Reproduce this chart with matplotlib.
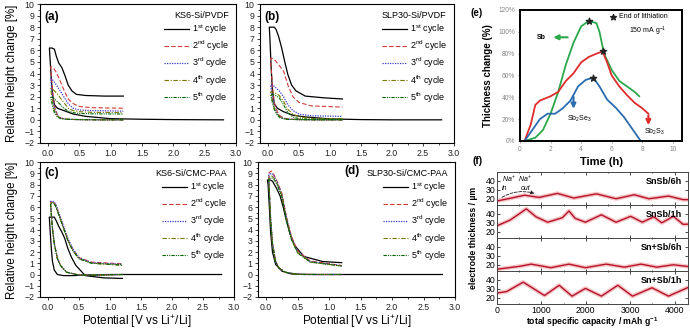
import matplotlib.pyplot as plt
from matplotlib.lines import Line2D
from matplotlib.ticker import MultipleLocator, PercentFormatter

plt.rcParams['font.family'] = ['Liberation Sans', 'DejaVu Sans']
plt.rcParams['mathtext.default'] = 'regular'

W, H = 690, 332


def box(l, t, r, b):
    return [l / W, 1 - b / H, (r - l) / W, (b - t) / H]


# ---- panels (a)-(d): relative height change vs potential ----
# first cycle starts at OCV (2.8 V); later cycles run 1.2 V -> 0 V -> 1.2 V
v_first = [2.8, 2.0, 1.5, 1.0, 0.6, 0.4, 0.25, 0.15, 0.1, 0.07, 0.05, 0.03, 0.02,
           0.06, 0.1, 0.13, 0.17, 0.22, 0.27, 0.32, 0.38, 0.45, 0.6, 0.9, 1.2]
v_rest = [1.2, 0.8, 0.5, 0.3, 0.2, 0.15, 0.1, 0.07, 0.05, 0.04,
          0.08, 0.12, 0.18, 0.25, 0.32, 0.4, 0.5, 0.7, 1.2]

ks6_pvdf_first = [0.0, 0.02, 0.05, 0.1, 0.3, 0.5, 0.8, 1.0, 1.3, 2.2, 3.6, 5.3, 6.2,
                  6.2, 6.1, 5.5, 4.9, 4.5, 3.8, 3.0, 2.5, 2.2, 2.1, 2.05, 2.05]
ks6_pvdf_rest = [
    [0, 0, 0.02, 0.05, 0.15, 0.4, 1.2, 2.5, 3.8, 4.6, 4.5, 4.2, 3.5, 2.6, 1.8, 1.4, 1.15, 1.05, 1.0],
    [0, 0, 0.02, 0.05, 0.15, 0.35, 1.0, 2.0, 3.0, 3.6, 3.4, 3.1, 2.6, 2.0, 1.4, 1.0, 0.85, 0.8, 0.75],
    [0, 0, 0.02, 0.05, 0.12, 0.3, 0.8, 1.6, 2.3, 2.7, 2.6, 2.4, 2.0, 1.5, 1.0, 0.8, 0.7, 0.65, 0.62],
    [0, 0, 0.02, 0.04, 0.1, 0.25, 0.6, 1.2, 1.7, 2.0, 1.9, 1.7, 1.4, 1.0, 0.75, 0.62, 0.55, 0.52, 0.5],
]

slp30_pvdf_first = [0.0, 0.0, 0.02, 0.08, 0.25, 0.4, 0.7, 1.0, 1.4, 2.5, 4.5, 7.0, 8.0,
                    8.0, 8.0, 7.8, 7.2, 6.2, 5.0, 3.9, 3.0, 2.5, 2.05, 1.9, 1.8]
slp30_pvdf_rest = [
    [0, 0, 0.02, 0.08, 0.3, 0.7, 1.5, 3.0, 4.5, 5.3, 5.3, 5.1, 4.7, 4.2, 3.0, 2.0, 1.5, 1.2, 1.1],
    [0, 0, 0.02, 0.06, 0.2, 0.5, 1.1, 2.0, 2.7, 3.0, 3.0, 2.8, 2.5, 2.0, 1.3, 0.8, 0.5, 0.35, 0.3],
    [0, 0, 0.02, 0.05, 0.2, 0.5, 1.0, 1.7, 2.2, 2.4, 2.4, 2.3, 2.1, 1.6, 0.9, 0.5, 0.25, 0.12, 0.1],
    [0, 0, 0.02, 0.05, 0.15, 0.4, 0.9, 1.5, 2.0, 2.2, 2.2, 2.1, 1.9, 1.3, 0.6, 0.25, 0.1, 0.05, 0.05],
]

ks6_cmc_first = [0.0, 0.0, 0.0, 0.0, -0.05, -0.1, -0.1, 0.0, 0.4, 1.2, 2.5, 4.2, 5.1,
                 5.1, 5.1, 4.8, 4.3, 3.8, 3.2, 2.3, 1.5, 0.8, -0.1, -0.3, -0.35]
ks6_cmc_rest = [
    [0, -0.05, -0.05, 0.2, 0.8, 1.5, 2.8, 4.2, 5.6, 6.4, 6.5, 6.2, 5.3, 4.2, 3.1, 2.2, 1.5, 1.1, 0.95],
    [0, -0.05, -0.05, 0.2, 0.8, 1.5, 2.8, 4.2, 5.6, 6.5, 6.5, 6.3, 5.4, 4.3, 3.2, 2.3, 1.5, 1.05, 0.9],
    [0, -0.05, -0.05, 0.2, 0.8, 1.4, 2.7, 4.1, 5.5, 6.4, 6.4, 6.1, 5.2, 4.1, 3.0, 2.1, 1.4, 1.0, 0.8],
    [0, -0.05, -0.05, 0.2, 0.8, 1.4, 2.7, 4.1, 5.5, 6.3, 6.4, 6.1, 5.2, 4.1, 3.0, 2.1, 1.4, 1.0, 0.85],
]

slp30_cmc_first = [0.0, 0.0, 0.0, 0.0, 0.0, 0.05, 0.3, 0.9, 2.0, 3.8, 6.0, 8.0, 8.4,
                   8.4, 8.3, 8.0, 7.6, 7.0, 6.0, 4.8, 3.6, 2.6, 1.6, 1.15, 1.05]
slp30_cmc_rest = [
    [0, 0, 0.02, 0.2, 0.6, 1.2, 2.8, 5.0, 7.5, 9.0, 9.2, 8.9, 8.2, 7.2, 5.2, 3.4, 2.1, 1.2, 0.8],
    [0, 0, 0.02, 0.2, 0.6, 1.2, 2.8, 5.0, 7.4, 8.9, 9.0, 8.8, 8.1, 7.1, 5.1, 3.3, 2.0, 1.15, 0.78],
    [0, 0, 0.02, 0.2, 0.6, 1.1, 2.7, 4.9, 7.3, 8.7, 8.8, 8.6, 8.0, 7.0, 5.0, 3.2, 1.95, 1.1, 0.75],
    [0, 0, 0.02, 0.2, 0.6, 1.1, 2.7, 4.9, 7.2, 8.5, 8.6, 8.5, 7.9, 6.9, 4.9, 3.1, 1.9, 1.1, 0.75],
]

cycle_labels = ['1$^{st}$ cycle', '2$^{nd}$ cycle', '3$^{rd}$ cycle',
                '4$^{th}$ cycle', '5$^{th}$ cycle']
cycle_styles = [
    dict(color='black', ls='-', lw=0.9),
    dict(color='#d03a3a', ls=(0, (4, 2)), lw=0.8),
    dict(color='#3a3ac8', ls=(0, (1, 1)), lw=0.9),
    dict(color='#7a7a00', ls=(0, (4, 1.5, 1, 1.5)), lw=0.8),
    dict(color='#006400', ls=(0, (3, 1, 1, 1, 1, 1)), lw=0.8),
]

# ---- panel (e): thickness change vs time ----
sb_t = [0.3, 1.0, 1.5, 2.0, 2.5, 3.0, 3.5, 4.0, 4.5, 5.0, 5.2, 5.5, 6.0, 6.5, 7.0, 7.5, 7.8]
sb_y = [0.0, 0.03, 0.1, 0.25, 0.45, 0.7, 0.9, 1.05, 1.1, 1.08, 1.0, 0.8, 0.65, 0.55, 0.5, 0.45, 0.41]
sb2s3_t = [0.3, 0.7, 1.0, 1.3, 2.0, 2.5, 3.0, 3.5, 4.0, 4.5, 5.0, 5.4, 5.7, 6.0, 6.5, 7.0, 7.5, 8.0, 8.4]
sb2s3_y = [0.0, 0.15, 0.33, 0.37, 0.41, 0.45, 0.55, 0.62, 0.72, 0.77, 0.8, 0.82, 0.72, 0.6, 0.5, 0.42, 0.35, 0.3, 0.25]
sb2se3_t = [0.3, 0.8, 1.3, 1.8, 2.3, 2.8, 3.3, 3.8, 4.3, 4.8, 5.2, 5.7, 6.3, 6.8, 7.3, 7.9]
sb2se3_y = [0.0, 0.1, 0.2, 0.25, 0.25, 0.3, 0.37, 0.5, 0.56, 0.58, 0.5, 0.38, 0.3, 0.22, 0.12, 0.0]
lith_end_t = [4.5, 5.4, 4.8]
lith_end_y = [1.1, 0.82, 0.58]

# ---- panel (f): electrode thickness vs capacity ----
f_labels = ['SnSb/6h', 'SnSb/1h', 'Sn+Sb/6h', 'Sn+Sb/1h']
f_cap = [
    [0, 300, 620, 950, 1360, 1730, 2240, 2680, 3090, 3420, 3860, 4190, 4300],
    [0, 290, 440, 660, 880, 1140, 1470, 1620, 1760, 1990, 2350, 2680, 3010, 3270, 3530, 3710, 3970, 4190, 4300],
    [0, 515, 770, 1210, 1620, 1990, 2460, 2870, 3240, 3600, 3970, 4300],
    [0, 220, 590, 1070, 1400, 1690, 1990, 2350, 2720, 3050, 3490, 3860, 4300],
]
f_thick = [
    [17.5, 20.5, 24.0, 21.5, 26.0, 20.8, 25.5, 20.0, 24.5, 20.0, 23.0, 19.0, 19.0],
    [26.7, 33.0, 38.0, 45.7, 36.7, 30.7, 35.7, 43.3, 35.0, 30.7, 39.0, 30.7, 37.3, 30.7, 36.7, 30.0, 37.3, 28.3, 28.5],
    [15.0, 18.3, 20.7, 16.7, 20.7, 16.7, 20.7, 17.3, 20.7, 17.3, 20.0, 18.0],
    [25.3, 27.0, 37.5, 22.5, 34.0, 21.8, 30.5, 21.8, 34.0, 21.8, 31.2, 21.8, 31.5],
]

fig = plt.figure(figsize=(W / 100, H / 100), dpi=100)

panels = [
    ((40, 4, 236, 143), ks6_pvdf_first, ks6_pvdf_rest, 'KS6-Si/PVDF', '(a)', (0.02, 0.91)),
    ((260, 4, 454, 143), slp30_pvdf_first, slp30_pvdf_rest, 'SLP30-Si/PVDF', '(b)', (0.02, 0.91)),
    ((40, 162, 234, 297), ks6_cmc_first, ks6_cmc_rest, 'KS6-Si/CMC-PAA', '(c)', (0.02, 0.92)),
    ((258, 162, 455, 297), slp30_cmc_first, slp30_cmc_rest, 'SLP30-Si/CMC-PAA', '(d)', (0.44, 0.93)),
]
for i, (pos, first, rest, title, letter, lxy) in enumerate(panels):
    ax = fig.add_axes(box(*pos))
    ax.plot(v_first, first, **cycle_styles[0])
    for h, st in zip(rest, cycle_styles[1:]):
        ax.plot(v_rest, h, **st)
    ax.set_xlim(-0.13, 3.0)
    ax.set_ylim(-2, 10)
    ax.xaxis.set_major_locator(MultipleLocator(0.5))
    ax.xaxis.set_minor_locator(MultipleLocator(0.25))
    ax.yaxis.set_major_locator(MultipleLocator(1))
    ax.yaxis.set_minor_locator(MultipleLocator(0.5))
    ax.tick_params(labelsize=6.3, colors='#222', length=2.5, width=0.6, pad=1.5)
    ax.tick_params(which='minor', length=1.5, width=0.5)
    for s in ax.spines.values():
        s.set_linewidth(0.8)
    ax.text(lxy[0], lxy[1], letter, transform=ax.transAxes, fontsize=8.5,
            fontweight='bold', ha='left', va='center')
    handles = [Line2D([], [], **st) for st in cycle_styles]
    ax.legend(handles, cycle_labels, title=title, loc='upper right',
              bbox_to_anchor=(0.99, 0.99), frameon=False, fontsize=6.5,
              title_fontsize=6.5, handlelength=2.8, handletextpad=0.3,
              labelspacing=0.3, borderaxespad=0.2, alignment='right')
    if i >= 2:
        ax.set_xlabel('Potential [V vs Li$^{+}$/Li]', fontsize=8.5, labelpad=1)

fig.text(12 / W, 1 - 73 / H, 'Relative height change [%]', rotation=90,
         ha='center', va='center', fontsize=8.3)
fig.text(12 / W, 1 - 230 / H, 'Relative height change [%]', rotation=90,
         ha='center', va='center', fontsize=8.3)

# ---- panel (e) ----
ax = fig.add_axes(box(520, 10, 682, 141))
ax.plot(sb_t, sb_y, color='#2aa84a', lw=1.3)
ax.plot(sb2s3_t, sb2s3_y, color='#e02b2b', lw=1.3)
ax.plot(sb2se3_t, sb2se3_y, color='#2b6cb0', lw=1.3)
ax.scatter(lith_end_t, lith_end_y, marker='*', s=22, color='#222', zorder=5)
ax.set_xlim(0, 10.6)
ax.set_ylim(0, 1.2)
ax.set_xticks([0, 2, 4, 6, 8, 10])
ax.set_yticks([0, 0.2, 0.4, 0.6, 0.8, 1.0, 1.2])
ax.yaxis.set_major_formatter(PercentFormatter(1.0, decimals=0))
ax.tick_params(labelsize=4.8, colors='#888', length=1.5, width=0.5, pad=2)
for s in ax.spines.values():
    s.set_linewidth(1.4)
ax.set_xlabel('Time (h)', fontsize=8, fontweight='bold', labelpad=3)
ax.set_ylabel('Thickness change (%)', fontsize=7, fontweight='bold', labelpad=4)
ax.annotate('', xy=(2.0, 0.95), xytext=(3.3, 0.95),
            arrowprops=dict(arrowstyle='-|>', color='#2aa84a', lw=1.5, mutation_scale=7))
ax.text(1.4, 0.95, 'Sb', fontsize=5, ha='center', va='center', fontweight='bold')
ax.annotate('', xy=(3.5, 0.27), xytext=(3.5, 0.43),
            arrowprops=dict(arrowstyle='-|>', color='#2b6cb0', lw=1.5, mutation_scale=7))
ax.text(3.9, 0.2, 'Sb$_2$Se$_3$', fontsize=5, ha='center', va='center')
ax.annotate('', xy=(8.4, 0.12), xytext=(8.4, 0.26),
            arrowprops=dict(arrowstyle='-|>', color='#e02b2b', lw=1.5, mutation_scale=7))
ax.text(8.8, 0.08, 'Sb$_2$S$_3$', fontsize=5, ha='center', va='center')
ax.scatter([6.1], [1.14], marker='*', s=18, color='#222')
ax.text(6.5, 1.14, 'End of lithiation', fontsize=5, ha='left', va='center')
ax.text(7.1, 1.0, '150 mA g$^{-1}$', fontsize=5, ha='left', va='center')
fig.text(477 / W, 1 - 13 / H, '(e)', fontsize=7, fontweight='bold', ha='center', va='center')

# ---- panel (f) ----
f_top, f_h = 172, 33
for i, (cap, th, lab) in enumerate(zip(f_cap, f_thick, f_labels)):
    ax = fig.add_axes(box(497, f_top + i * f_h, 688, f_top + (i + 1) * f_h))
    ax.plot(cap, th, color='#f6c4c4', lw=3.0, solid_capstyle='round')
    ax.plot(cap, th, color='#b5122b', lw=1.0)
    ax.set_xlim(0, 4300)
    ax.set_ylim(13, 50)
    ax.set_yticks([20, 30, 40])
    ax.xaxis.set_major_locator(MultipleLocator(1000))
    ax.xaxis.set_minor_locator(MultipleLocator(500))
    ax.tick_params(which='both', direction='in', top=True, right=True,
                   labelsize=6.3, length=2, width=0.5, pad=1.2)
    ax.tick_params(which='minor', length=1)
    for s in ax.spines.values():
        s.set_linewidth(0.7)
        s.set_color('#444')
    ax.text(0.97, 0.7, lab, transform=ax.transAxes, fontsize=6.5, fontweight='bold',
            ha='right', va='center')
    if i < 3:
        ax.tick_params(labelbottom=False)
    else:
        ax.set_xlabel('total specific capacity / mAh g$^{-1}$', fontsize=6.2,
                      fontweight='bold', labelpad=0.5)
    if i == 0:
        ax.text(110, 42, 'Na$^{+}$', fontsize=5, style='italic', ha='left', va='center')
        ax.text(110, 32, 'in', fontsize=5, style='italic', ha='left', va='center')
        ax.text(480, 42, 'Na$^{+}$', fontsize=5, style='italic', ha='left', va='center')
        ax.text(540, 32, 'out', fontsize=5, style='italic', ha='left', va='center')
        ax.annotate('', xy=(900, 25), xytext=(60, 20),
                    arrowprops=dict(arrowstyle='-|>', ls='--', lw=0.6, color='#222',
                                    connectionstyle='arc3,rad=-0.25', mutation_scale=5))

fig.text(474 / W, 1 - 238 / H, 'electrode thickness / µm', rotation=90, fontsize=6.3,
         fontweight='bold', ha='center', va='center')
fig.text(478 / W, 1 - 161 / H, '(f)', fontsize=7.5, fontweight='bold', ha='center', va='center')

fig.savefig('out.png', dpi=100)
